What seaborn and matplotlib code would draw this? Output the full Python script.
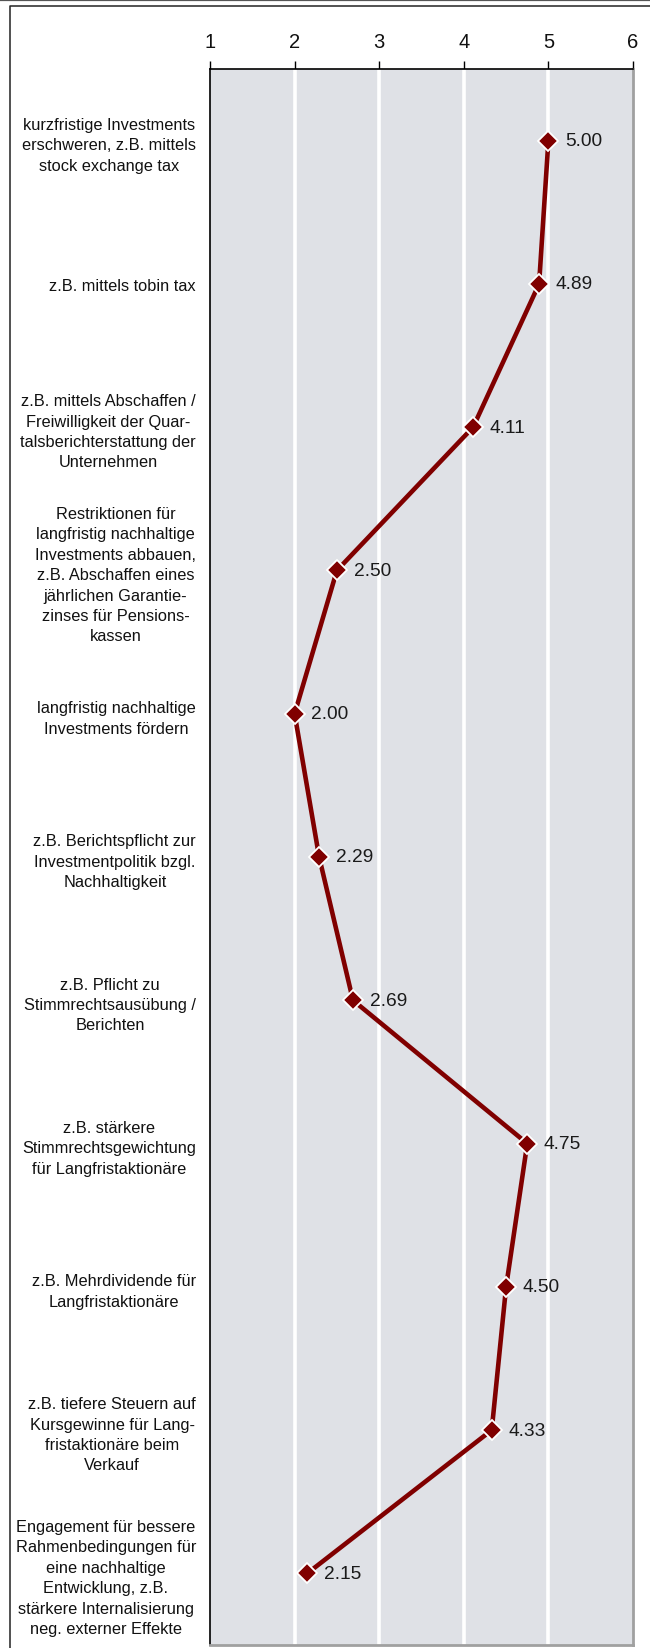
import numpy as np
import pandas as pd
import matplotlib
matplotlib.use("Agg")
import matplotlib.pyplot as plt
from matplotlib.lines import Line2D
import seaborn as sns

# Measures and their mean ratings (scale 1-6)
categories = [
    "kurzfristige Investments\nerschweren, z.B. mittels\nstock exchange tax",
    "z.B. mittels tobin tax",
    "z.B. mittels Abschaffen /\nFreiwilligkeit der Quar-\ntalsberichterstattung der\nUnternehmen",
    "Restriktionen für\nlangfristig nachhaltige\nInvestments abbauen,\nz.B. Abschaffen eines\njährlichen Garantie-\nzinses für Pensions-\nkassen",
    "langfristig nachhaltige\nInvestments fördern",
    "z.B. Berichtspflicht zur\nInvestmentpolitik bzgl.\nNachhaltigkeit",
    "z.B. Pflicht zu\nStimmrechtsausübung /\nBerichten",
    "z.B. stärkere\nStimmrechtsgewichtung\nfür Langfristaktionäre",
    "z.B. Mehrdividende für\nLangfristaktionäre",
    "z.B. tiefere Steuern auf\nKursgewinne für Lang-\nfristaktionäre beim\nVerkauf",
    "Engagement für bessere\nRahmenbedingungen für\neine nachhaltige\nEntwicklung, z.B.\nstärkere Internalisierung\nneg. externer Effekte",
]
scores = [5.00, 4.89, 4.11, 2.50, 2.00, 2.29, 2.69, 4.75, 4.50, 4.33, 2.15]
x_ticks = [1, 2, 3, 4, 5, 6]

sns.set_style("white")
plt.rcParams["font.family"] = ["Liberation Sans", "DejaVu Sans"]

df = pd.DataFrame({"pos": np.arange(len(categories)), "score": scores})

W, H = 650, 1649
fig = plt.figure(figsize=(W / 100, H / 100), dpi=100)
ax = fig.add_axes([210 / W, 1 - 1646 / H, 423 / W, 1576 / H])
ax.set_facecolor("#dfe1e6")

line_color = "#800000"
sns.lineplot(
    data=df, x="score", y="pos", orient="y", sort=False, ax=ax,
    color=line_color, linewidth=3.3, marker="D", markersize=10,
    markerfacecolor=line_color, markeredgecolor="white", markeredgewidth=1.3,
    zorder=5,
)

for p, s in zip(df["pos"], df["score"]):
    ax.annotate(f"{s:.2f}", (s, p), xytext=(12, 0), textcoords="offset points",
                va="center", ha="left", fontsize=13.8, color="#1a1a1a", zorder=6)

ax.set_xlim(1, 6)
ax.set_ylim(len(categories) - 0.5, -0.5)

# x axis on top with white vertical gridlines
ax.xaxis.tick_top()
ax.set_xticks(x_ticks)
ax.set_xticklabels([str(t) for t in x_ticks])
ax.tick_params(axis="x", which="major", direction="out", length=6, width=1,
               color="black", pad=7, labelsize=14.5, labelcolor="#111111")
for t in x_ticks[1:-1]:
    ax.axvline(t, color="white", linewidth=2.6, zorder=1)

# category labels centred in their bands, ticks on the band edges
ax.set_yticks(df["pos"])
ax.set_yticklabels(categories, ha="right", multialignment="center",
                   linespacing=1.45)
ax.set_yticks(np.arange(-0.5, len(categories), 1.0), minor=True)
ax.tick_params(axis="y", which="major", length=0, pad=10, labelsize=11.8,
               labelcolor="#111111")
ax.tick_params(axis="y", which="minor", direction="out", length=4, width=1,
               color="black")
for lbl in ax.get_yticklabels():
    lbl.set_multialignment("center")
    lbl.set_linespacing(1.45)

ax.set_xlabel("")
ax.set_ylabel("")
ax.grid(False)

for side in ("left", "top"):
    ax.spines[side].set_color("black")
    ax.spines[side].set_linewidth(1.2)
for side in ("right", "bottom"):
    ax.spines[side].set_color("#a0a0a0")
    ax.spines[side].set_linewidth(2)
    ax.spines[side].set_visible(True)

# outer frame and rule at the top edge
fig.add_artist(Line2D([0, 1], [1 - 0.8 / H, 1 - 0.8 / H], transform=fig.transFigure,
                      color="#555555", linewidth=1.6))
fig.add_artist(Line2D([10 / W, 10 / W, 1.01], [-0.01, 1 - 6.5 / H, 1 - 6.5 / H],
                      transform=fig.transFigure, color="#222222", linewidth=1.1))

fig.savefig("out.png", dpi=100)
